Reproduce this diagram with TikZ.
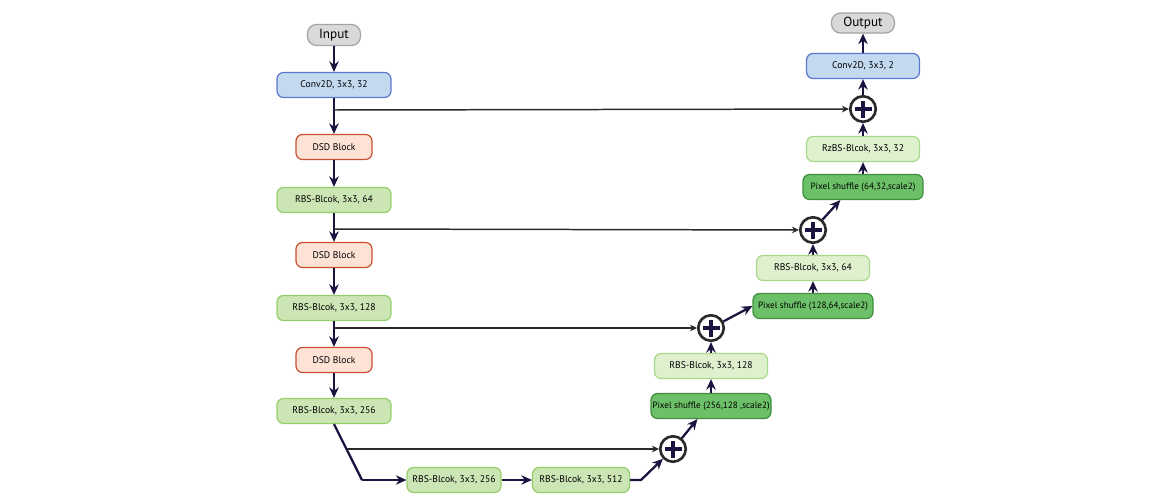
\documentclass[tikz,border=0pt]{standalone}
\usepackage{fontspec}
\setmainfont{PT Sans}
\usetikzlibrary{arrows.meta}

\definecolor{greyfill}{HTML}{D9D9D9}
\definecolor{greyline}{HTML}{A3A3A3}
\definecolor{bluefill}{HTML}{C3D9F0}
\definecolor{blueline}{HTML}{5B78CC}
\definecolor{dsdfill}{HTML}{FDE3D5}
\definecolor{dsdline}{HTML}{C8502E}
\definecolor{rbsfill}{HTML}{CCE5B5}
\definecolor{rbsline}{HTML}{94CF6A}
\definecolor{litefill}{HTML}{DFF0CF}
\definecolor{liteline}{HTML}{A8D98A}
\definecolor{psfill}{HTML}{6CC067}
\definecolor{psline}{HTML}{3F8F3F}
\definecolor{navy}{HTML}{1B1340}
\definecolor{ring}{HTML}{2A2A2A}

\begin{document}
\begin{tikzpicture}[x=0.02cm, y=-0.02cm,
    blockbase/.style={draw, rounded corners=0.13cm, line width=0.7pt, inner sep=0pt,
        minimum height=0.5cm, font=\fontsize{5.5}{6}\selectfont},
    iobox/.style={blockbase, fill=greyfill, draw=greyline, rounded corners=0.18cm,
        minimum height=0.42cm, minimum width=1.06cm, font=\fontsize{7.5}{9}\selectfont},
    convbox/.style={blockbase, fill=bluefill, draw=blueline, minimum width=2.28cm},
    dsdbox/.style={blockbase, fill=dsdfill, draw=dsdline, minimum width=1.52cm},
    rbsbox/.style={blockbase, fill=rbsfill, draw=rbsline, minimum width=2.28cm},
    litebox/.style={blockbase, fill=litefill, draw=liteline, minimum width=2.26cm},
    psbox/.style={blockbase, fill=psfill, draw=psline, minimum width=2.4cm,
        font=\fontsize{5.2}{6}\selectfont},
    addnode/.style={circle, draw=ring, fill=white, line width=1.5pt, minimum size=0.51cm,
        inner sep=0pt, path picture={
        \draw[navy, line width=1.9pt]
            ([xshift=-0.17cm]path picture bounding box.center) -- ([xshift=0.17cm]path picture bounding box.center)
            ([yshift=-0.17cm]path picture bounding box.center) -- ([yshift=0.17cm]path picture bounding box.center);}},
    arr/.style={-{Stealth[length=6pt, width=5.4pt]}, navy, line width=1.3pt},
    joinline/.style={navy, line width=1.3pt},
    skipline/.style={-{Stealth[length=4pt, width=3.8pt]}, ring, line width=0.85pt}]
    \useasboundingbox (0,0) rectangle (1172,494);

    % encoder
    \node[iobox] (input) at (334,35) {Input};
    \node[convbox] (convin) at (334,85) {Conv2D, 3x3, 32};
    \node[dsdbox] (dsdA) at (334,147) {DSD Block};
    \node[rbsbox] (rbsA) at (334,200) {RBS-Blcok, 3x3, 64};
    \node[dsdbox] (dsdB) at (334,255) {DSD Block};
    \node[rbsbox] (rbsB) at (334,308) {RBS-Blcok, 3x3, 128};
    \node[dsdbox] (dsdC) at (334,360) {DSD Block};
    \node[rbsbox] (rbsC) at (334,411) {RBS-Blcok, 3x3, 256};

    % bottleneck
    \node[rbsbox, minimum width=1.88cm] (rbsD) at (454,480) {RBS-Blcok, 3x3, 256};
    \node[rbsbox, minimum width=1.94cm] (rbsE) at (581,480) {RBS-Blcok, 3x3, 512};

    % decoder
    \node[addnode] (addA) at (673,449) {};
    \node[psbox] (psA) at (711,406) {Pixel shuffle (256,128 ,scale2)};
    \node[litebox] (rbsF) at (711,366) {RBS-Blcok, 3x3, 128};
    \node[addnode] (addB) at (711,328) {};
    \node[psbox] (psB) at (813,306) {Pixel shuffle (128,64,scale2)};
    \node[litebox] (rbsG) at (813,268) {RBS-Blcok, 3x3, 64};
    \node[addnode] (addC) at (813,230) {};
    \node[psbox] (psC) at (863,187) {Pixel shuffle (64,32,scale2)};
    \node[litebox] (rbsH) at (863,149) {RzBS-Blcok, 3x3, 32};
    \node[addnode] (addD) at (863,109) {};
    \node[convbox, minimum width=2.26cm] (convout) at (863,66) {Conv2D, 3x3, 2};
    \node[iobox, minimum width=1.26cm, minimum height=0.4cm] (output) at (863,23) {Output};

    \coordinate (tapA) at (334,110);
    \coordinate (tapB) at (334,229);
    \coordinate (tapC) at (334,328);
    \coordinate (tapD) at (347,449);
    \coordinate (bend) at (362,480);
    \coordinate (outE) at (641,480);

    \draw[arr] (input) -- (convin);
    \draw[arr] (convin) -- (dsdA);
    \draw[arr] (dsdA) -- (rbsA);
    \draw[arr] (rbsA) -- (dsdB);
    \draw[arr] (dsdB) -- (rbsB);
    \draw[arr] (rbsB) -- (dsdC);
    \draw[arr] (dsdC) -- (rbsC);
    \draw[joinline] (rbsC.south) -- (bend);
    \draw[arr] (bend) -- (rbsD);
    \draw[arr] (rbsD) -- (rbsE);
    \draw[arr] (rbsE.east) -- (outE) -- (addA);

    \draw[arr] (addA) -- (psA.224);
    \draw[arr] (psA) -- (rbsF);
    \draw[arr] (rbsF) -- (addB);
    \draw[arr] (addB) -- (psB.west);
    \draw[arr] (psB) -- (rbsG);
    \draw[arr] (rbsG) -- (addC);
    \draw[arr] (addC) -- (psC.210);
    \draw[arr] (psC) -- (rbsH);
    \draw[arr] (rbsH) -- (addD);
    \draw[arr] (addD) -- (convout);
    \draw[arr] (convout) -- (output);

    % skip connections
    \draw[skipline] (tapA) -- (addD);
    \draw[skipline] (tapB) -- (addC);
    \draw[skipline] (tapC) -- (addB);
    \draw[skipline] (tapD) -- (addA);
\end{tikzpicture}
\end{document}
